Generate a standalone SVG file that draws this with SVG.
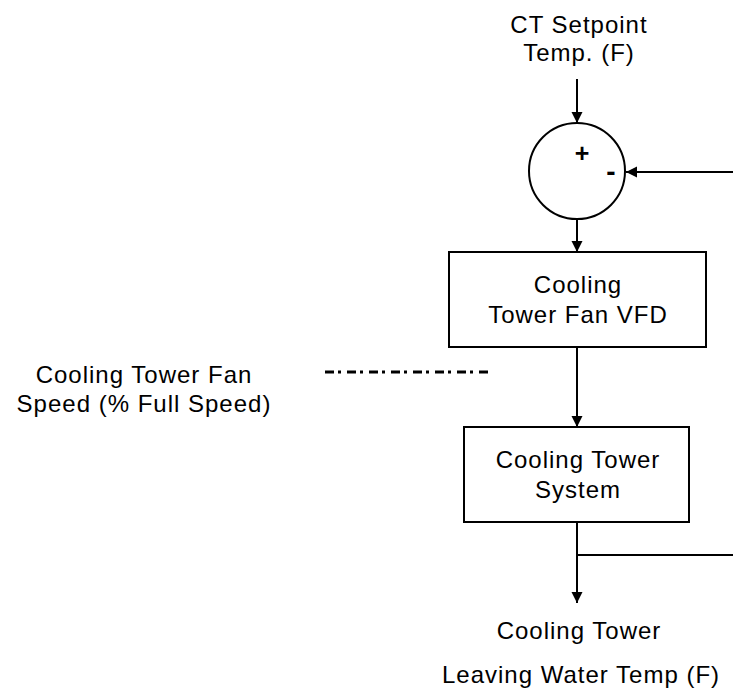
<svg xmlns="http://www.w3.org/2000/svg" width="733" height="694" viewBox="0 0 733 694">
<defs>
<marker id="arr" markerUnits="userSpaceOnUse" markerWidth="12" markerHeight="12" refX="11" refY="6" orient="auto">
<path d="M0,0.5 L11,6 L0,11.5 z" fill="#000"/>
</marker>
<style>
.t{font-family:"Liberation Sans",Arial,sans-serif;font-size:24px;letter-spacing:1px;fill:#000;text-anchor:middle}
.b{fill:#fff;stroke:#000;stroke-width:2}
.c{fill:none;stroke:#000;stroke-width:2}
.s{font-family:"Liberation Sans",Arial,sans-serif;font-weight:bold;fill:#000;text-anchor:middle}
</style>
</defs>
<rect width="733" height="694" fill="#fff"/>
<g id="setpoint-label">
<text class="t" x="579" y="33">CT Setpoint</text>
<text class="t" x="579" y="61">Temp. (F)</text>
</g>
<g id="summing-junction">
<circle cx="577" cy="171" r="48" class="b"/>
<text class="s" x="582" y="162" font-size="25">+</text>
<text class="s" x="611" y="181" font-size="28">-</text>
</g>
<g id="vfd">
<rect x="449" y="252" width="257" height="95" class="b"/>
<text class="t" x="578" y="293">Cooling</text>
<text class="t" x="578" y="323">Tower Fan VFD</text>
</g>
<g id="fan-speed-label">
<text class="t" x="144" y="383">Cooling Tower Fan</text>
<text class="t" x="144" y="412">Speed (% Full Speed)</text>
</g>
<g id="system">
<rect x="464" y="427" width="225" height="95" class="b"/>
<text class="t" x="578" y="468">Cooling Tower</text>
<text class="t" x="578" y="498">System</text>
</g>
<g id="output-label">
<text class="t" x="579" y="639">Cooling Tower</text>
<text class="t" x="581" y="683">Leaving Water Temp (F)</text>
</g>
<g id="connectors">
<line x1="577" y1="79" x2="577" y2="123" class="c" marker-end="url(#arr)"/>
<line x1="733" y1="172" x2="626" y2="172" class="c" marker-end="url(#arr)"/>
<line x1="577" y1="219" x2="577" y2="252" class="c" marker-end="url(#arr)"/>
<line x1="577" y1="347" x2="577" y2="427" class="c" marker-end="url(#arr)"/>
<line x1="577" y1="522" x2="577" y2="603" class="c" marker-end="url(#arr)"/>
<line x1="577" y1="555" x2="733" y2="555" class="c"/>
<line x1="325" y1="372" x2="488" y2="372" stroke="#000" stroke-width="3" stroke-dasharray="9 4 3 6"/>
</g>
</svg>
